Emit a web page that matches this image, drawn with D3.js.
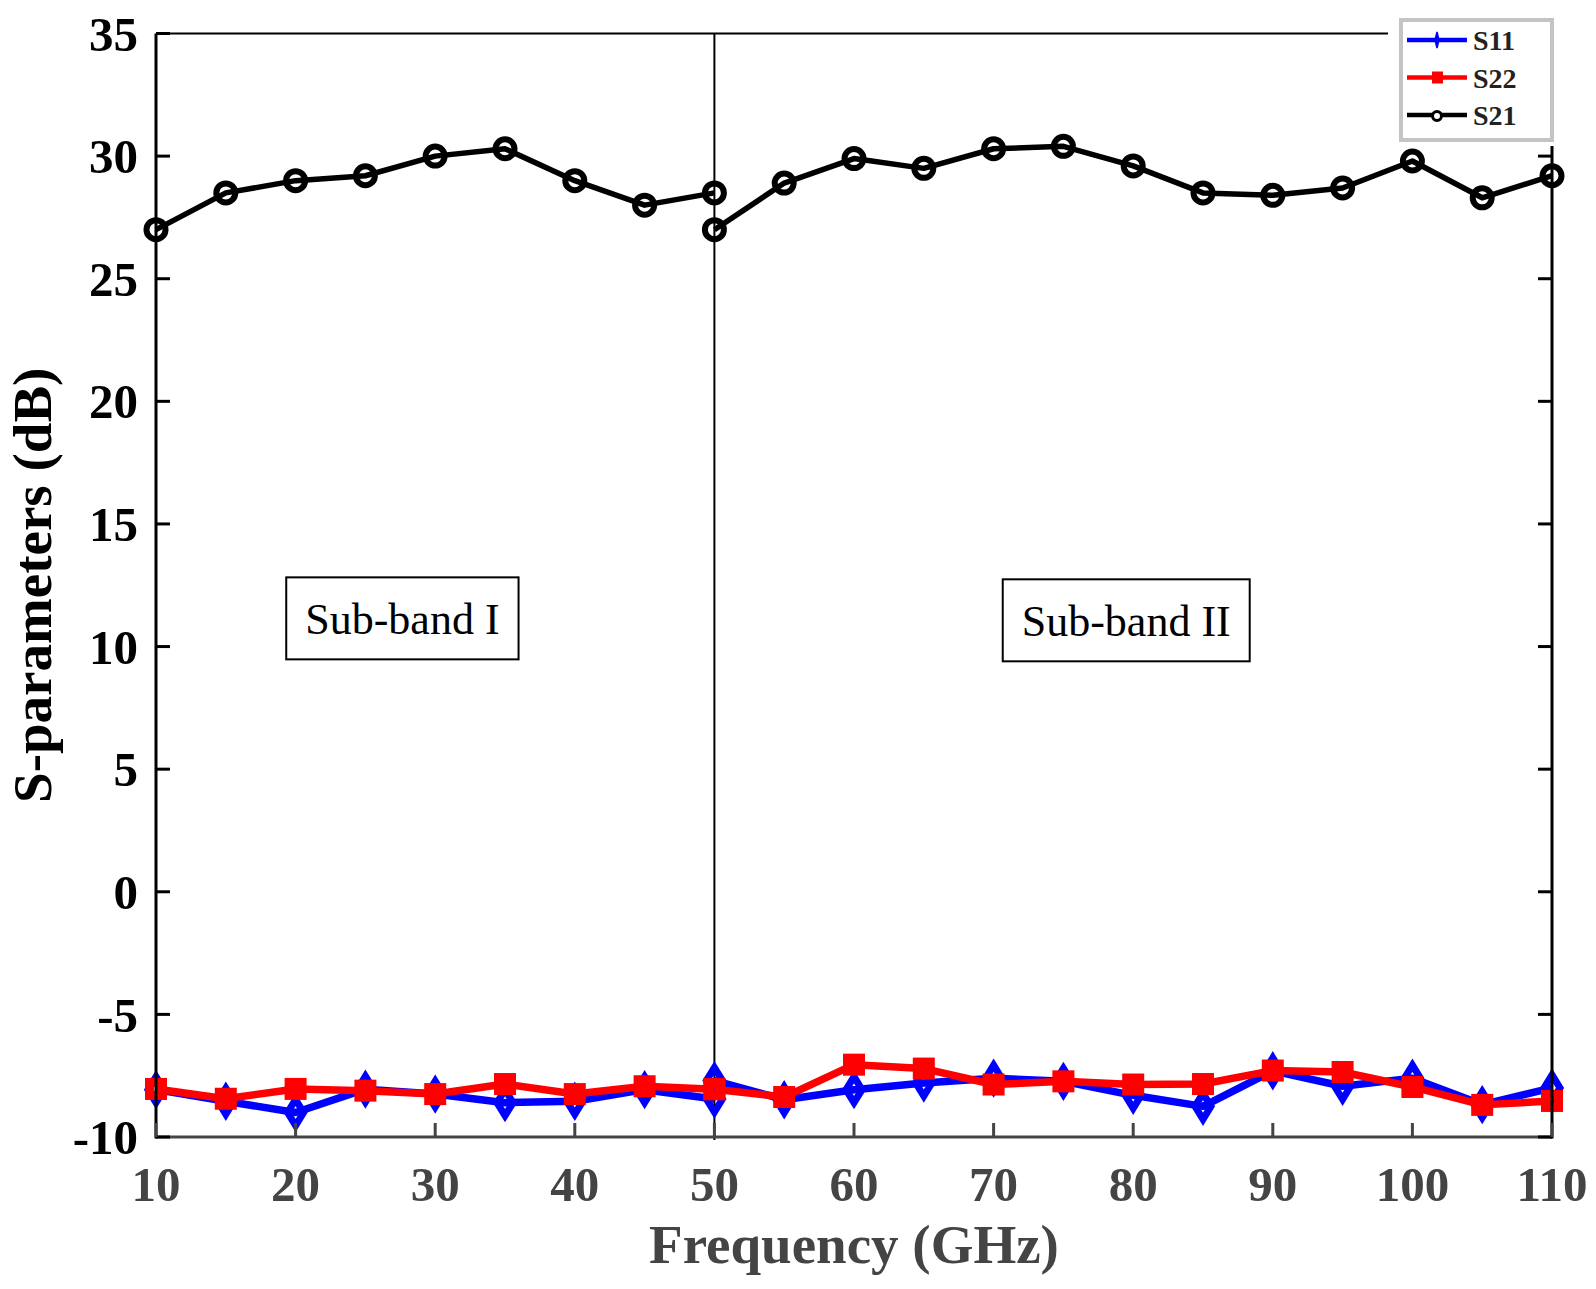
<!DOCTYPE html>
<html>
<head>
<meta charset="utf-8">
<script src="https://cdn.jsdelivr.net/npm/d3@7"></script>
<style>
	body { margin: 0; background: white; }
	text { font-family: "Liberation Serif", "Times New Roman", serif; }
</style>
</head>
<body>
<svg id="chart" width="1596" height="1289"></svg>
<script>

// Frequencies (GHz) of the two sub-bands (both share the 50 GHz point):
var freqBand1 = [10, 15, 20, 25, 30, 35, 40, 45, 50];
var freqBand2 = [50, 55, 60, 65, 70, 75, 80, 85, 90, 95, 100, 105, 110];

// S21 (dB):
var s21Band1 = [27.0, 28.5, 29.0, 29.2, 30.0, 30.3, 29.0, 28.0, 28.5];
var s21Band2 = [27.0, 28.9, 29.9, 29.5, 30.3, 30.4, 29.6, 28.5, 28.4, 28.7, 29.8, 28.3, 29.2];

// S11 (dB):
var s11Band1 = [-8.07, -8.54, -9.0, -8.05, -8.25, -8.6, -8.54, -8.07, -8.45];
var s11Band2 = [-7.7, -8.48, -8.07, -7.8, -7.6, -7.73, -8.3, -8.75, -7.3, -7.93, -7.6, -8.68, -8.0];

// S22 (dB):
var s22Band1 = [-8.04, -8.44, -8.04, -8.11, -8.25, -7.84, -8.25, -7.93, -8.05];
var s22Band2 = [-8.05, -8.37, -7.05, -7.21, -7.86, -7.73, -7.86, -7.84, -7.29, -7.35, -7.96, -8.69, -8.53];

// Axes ticks:
var xTicks = [10, 20, 30, 40, 50, 60, 70, 80, 90, 100, 110];
var yTicks = [-10, -5, 0, 5, 10, 15, 20, 25, 30, 35];

// Sub-band annotations (center, in data coordinates):
var bandLabels = ["Sub-band I", "Sub-band II"];
var bandCenterFreq = [27.65, 79.5];
var bandCenterDb = [11.15, 11.07];

var svg = d3.select("#chart");

var margin = { left: 156, top: 33.5, right: 44, bottom: 152 };
var width = 1596 - margin.left - margin.right;
var height = 1289 - margin.top - margin.bottom;

var x = d3.scaleLinear().domain([10, 110]).range([margin.left, margin.left + width]);
var y = d3.scaleLinear().domain([-10, 35]).range([margin.top + height, margin.top]);

var series = [
	{ name: "S11", color: "#0000ff", marker: "diamond", lineWidth: 7.5,
		parts: [[freqBand1, s11Band1], [freqBand2, s11Band2]] },
	{ name: "S22", color: "#ff0000", marker: "square", lineWidth: 7.5,
		parts: [[freqBand1, s22Band1], [freqBand2, s22Band2]] },
	{ name: "S21", color: "#000000", marker: "circle", lineWidth: 5.5,
		parts: [[freqBand1, s21Band1], [freqBand2, s21Band2]] }
];

// The drawing of a marker (no fill, so the line shows through as in MATLAB):
function drawMarker(g, shape, color, cx, cy) {
	if (shape == "circle") {
		g.append("circle").attr("cx", cx).attr("cy", cy).attr("r", 9.5)
			.attr("fill", "none").attr("stroke", color).attr("stroke-width", 6);
	} else if (shape == "square") {
		g.append("rect").attr("x", cx - 6.5).attr("y", cy - 6.5)
			.attr("width", 13).attr("height", 13)
			.attr("fill", "none").attr("stroke", color).attr("stroke-width", 9);
	} else {
		g.append("path")
			.attr("d", "M" + cx + "," + (cy - 13) + "L" + (cx + 8) + "," + cy +
				"L" + cx + "," + (cy + 13) + "L" + (cx - 8) + "," + cy + "Z")
			.attr("fill", "none").attr("stroke", color).attr("stroke-width", 7)
			.attr("stroke-linejoin", "miter");
	}
}

// The separation between the two sub-bands:
svg.append("line")
	.attr("x1", x(50)).attr("x2", x(50))
	.attr("y1", y(35)).attr("y2", y(-10) + 3)
	.attr("stroke", "black").attr("stroke-width", 2);

// The lines and the markers:
series.forEach( function(s) {
	var g = svg.append("g");
	s.parts.forEach( function(part) {
		var pts = part[0].map( function(f, i) { return [f, part[1][i]]; });
		g.append("path")
			.datum(pts)
			.attr("d", d3.line().x(function(d) { return x(d[0]); }).y(function(d) { return y(d[1]); }))
			.attr("fill", "none")
			.attr("stroke", s.color)
			.attr("stroke-width", s.lineWidth)
			.attr("stroke-linejoin", "round");
		pts.forEach( function(d) {
			drawMarker(g, s.marker, s.color, x(d[0]), y(d[1]));
		});
	});
});

// The axes (box): top and right in black, bottom in dark grey:
svg.append("line")
	.attr("x1", x(10)).attr("x2", x(110)).attr("y1", y(35)).attr("y2", y(35))
	.attr("stroke", "black").attr("stroke-width", 2);
svg.append("line")
	.attr("x1", x(10)).attr("x2", x(110)).attr("y1", y(-10)).attr("y2", y(-10))
	.attr("stroke", "#444444").attr("stroke-width", 3);
svg.append("line")
	.attr("x1", x(10)).attr("x2", x(10)).attr("y1", y(35)).attr("y2", y(-10) + 1.5)
	.attr("stroke", "black").attr("stroke-width", 3);
svg.append("line")
	.attr("x1", x(110)).attr("x2", x(110)).attr("y1", y(35)).attr("y2", y(-10) + 1.5)
	.attr("stroke", "black").attr("stroke-width", 3);

// Y ticks (inward, on both sides) and labels:
yTicks.forEach( function(t) {
	svg.append("line")
		.attr("x1", x(10)).attr("x2", x(10) + 14).attr("y1", y(t)).attr("y2", y(t))
		.attr("stroke", "black").attr("stroke-width", 3);
	svg.append("line")
		.attr("x1", x(110) - 14).attr("x2", x(110)).attr("y1", y(t)).attr("y2", y(t))
		.attr("stroke", "black").attr("stroke-width", 3);
	svg.append("text")
		.text(t)
		.attr("x", x(10) - 18)
		.attr("y", y(t))
		.attr("dy", "0.35em")
		.attr("text-anchor", "end")
		.style("font-size", "49px")
		.style("font-weight", "bold")
		.attr("fill", "black");
});

// X ticks (inward) and labels:
xTicks.forEach( function(t) {
	svg.append("line")
		.attr("x1", x(t)).attr("x2", x(t)).attr("y1", y(-10)).attr("y2", y(-10) - 14)
		.attr("stroke", "#444444").attr("stroke-width", 3);
	svg.append("text")
		.text(t)
		.attr("x", x(t))
		.attr("y", 1201)
		.attr("text-anchor", "middle")
		.style("font-size", "49px")
		.style("font-weight", "bold")
		.attr("fill", "#444444");
});

// Axis titles:
svg.append("text")
	.text("Frequency (GHz)")
	.attr("x", x(60))
	.attr("y", 1263)
	.attr("text-anchor", "middle")
	.style("font-size", "55px")
	.style("font-weight", "bold")
	.attr("fill", "#444444");

svg.append("text")
	.text("S-parameters (dB)")
	.attr("transform", "translate(51," + y(12.5) + ")rotate(-90)")
	.attr("text-anchor", "middle")
	.style("font-size", "55px")
	.style("font-weight", "bold")
	.attr("fill", "black");

// The sub-band boxes:
bandLabels.forEach( function(label, i) {
	var cx = x(bandCenterFreq[i]), cy = y(bandCenterDb[i]);
	var t = svg.append("text")
		.text(label)
		.attr("x", cx)
		.attr("y", cy)
		.attr("dy", "0.35em")
		.attr("text-anchor", "middle")
		.style("font-size", "44px")
		.attr("fill", "black");
	var bb = t.node().getBBox();
	svg.insert("rect", "text")
		.attr("x", bb.x - 19).attr("y", cy - 41)
		.attr("width", bb.width + 38).attr("height", 82)
		.attr("fill", "white").attr("stroke", "black").attr("stroke-width", 2);
});

// The legend:
var legend = svg.append("g");
legend.append("rect")
	.attr("x", 1388).attr("y", 14).attr("width", 170).attr("height", 132)
	.attr("fill", "white");
legend.append("rect")
	.attr("x", 1401).attr("y", 20).attr("width", 151).attr("height", 120)
	.attr("fill", "white").attr("stroke", "#c4c4c4").attr("stroke-width", 4);

series.forEach( function(s, i) {
	var ly = 40 + i * 37.5;
	legend.append("line")
		.attr("x1", 1407).attr("x2", 1467).attr("y1", ly).attr("y2", ly)
		.attr("stroke", s.color).attr("stroke-width", 4.5);
	if (s.marker == "diamond") {
		legend.append("path")
			.attr("d", "M1437," + (ly - 8) + "L1439," + ly + "L1437," + (ly + 8) + "L1435," + ly + "Z")
			.attr("fill", s.color).attr("stroke", s.color).attr("stroke-width", 1.5);
	} else if (s.marker == "square") {
		legend.append("rect")
			.attr("x", 1432).attr("y", ly - 6).attr("width", 11).attr("height", 12)
			.attr("fill", s.color);
	} else {
		legend.append("circle")
			.attr("cx", 1437).attr("cy", ly + 1).attr("r", 4.5)
			.attr("fill", "white").attr("stroke", s.color).attr("stroke-width", 3);
	}
	legend.append("text")
		.text(s.name)
		.attr("x", 1473)
		.attr("y", ly + 10)
		.style("font-size", "28px")
		.style("font-weight", "bold")
		.attr("fill", "#222222");
});

</script>
</body>
</html>
